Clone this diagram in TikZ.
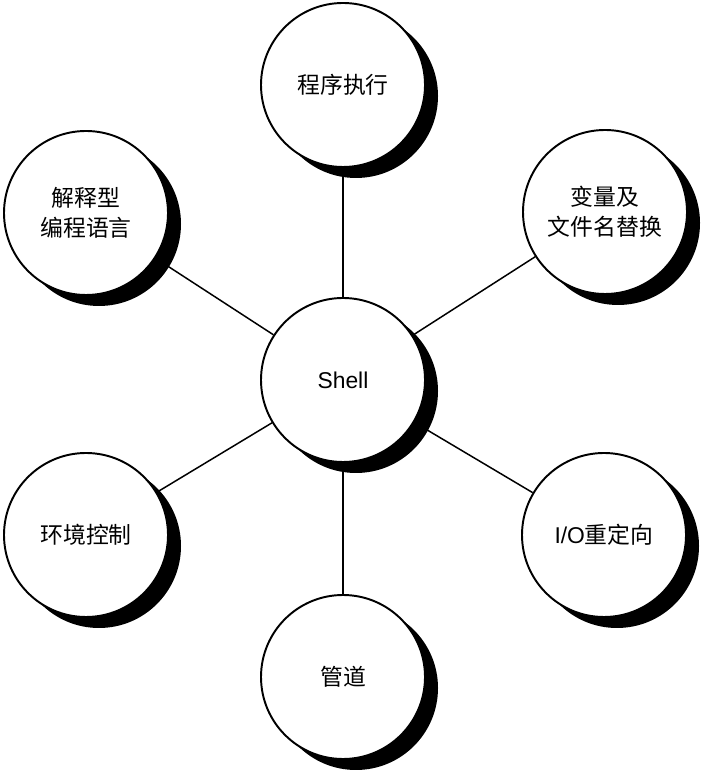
\documentclass[tikz,border=0pt]{standalone}
\usepackage{fontspec}
\setmainfont{Liberation Sans}
\newfontfamily\cjk{Noto Sans CJK SC}
\usepackage{tikz}
\usetikzlibrary{shapes,shadows,positioning}

\tikzset{
    bubble/.style={circle,draw,line width=1.1pt,fill=white,minimum size=3.28cm,
        align=center,font=\fontsize{13}{17}\selectfont,
        drop shadow={shadow xshift=0.26cm,shadow yshift=-0.22cm,fill=black,opacity=1}},
    spoke/.style={line width=0.85pt}
}

\begin{document}
\begin{tikzpicture}
    \useasboundingbox (0,0) rectangle (14,15.42);

    \node[bubble] (shell) at (6.86,7.82) {Shell};
    \node[bubble] (exec) at (6.86,13.72) {\cjk 程序执行};
    \node[bubble] (lang) at (1.72,11.16) {\cjk 解释型\\\cjk 编程语言};
    \node[bubble] (subst) at (12.1,11.18) {\cjk 变量及\\\cjk 文件名替换};
    \node[bubble] (env) at (1.72,4.72) {\cjk 环境控制};
    \node[bubble] (redir) at (12.08,4.72) {I/O\cjk 重定向};
    \node[bubble] (pipe) at (6.86,1.88) {\cjk 管道};

    \foreach \n in {exec,lang,subst,env,redir,pipe}
        \draw[spoke] (shell) -- (\n);
\end{tikzpicture}
\end{document}
